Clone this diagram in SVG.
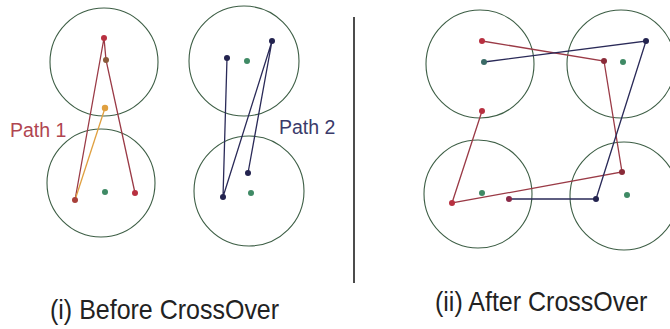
<svg xmlns="http://www.w3.org/2000/svg" width="670" height="329" viewBox="0 0 670 329">
<style>
.zone{fill:none;stroke:#3d5e45;stroke-width:1.1}
.ctr{fill:#3f8a65}
.red{stroke:#9a3a46;stroke-width:1.3;fill:none;stroke-linecap:round}
.org{stroke:#e0a040;stroke-width:1.3;fill:none}
.navy{stroke:#2a2a58;stroke-width:1.3;fill:none}
.dr{fill:#b83040}
.dn{fill:#23234f}
.lbl{font-family:"Liberation Sans",Arial,sans-serif}
</style>
<rect width="670" height="329" fill="#ffffff"/>
<g id="zones-before">
<g id="zone-b1"><circle class="zone" cx="104" cy="62" r="54"/></g>
<g id="zone-b2"><circle class="zone" cx="101" cy="183" r="54"/><circle class="ctr" cx="105" cy="192" r="3"/></g>
<g id="zone-b3"><circle class="zone" cx="244" cy="61" r="55"/><circle class="ctr" cx="247" cy="61" r="3"/></g>
<g id="zone-b4"><circle class="zone" cx="249" cy="191" r="55"/><circle class="ctr" cx="251" cy="193" r="3"/></g>
</g>
<g id="zones-after">
<g id="zone-a1"><circle class="zone" cx="480" cy="64" r="54"/></g>
<g id="zone-a2"><circle class="zone" cx="621" cy="64" r="54"/><circle class="ctr" cx="623" cy="62" r="3"/></g>
<g id="zone-a3"><circle class="zone" cx="478" cy="194" r="54"/><circle class="ctr" cx="482" cy="193" r="3"/></g>
<g id="zone-a4"><circle class="zone" cx="624" cy="196" r="54"/><circle class="ctr" cx="627" cy="195" r="3"/></g>
</g>
<g id="connectors">
<polyline class="red" points="135,193 106,60 104,38 75,200"/>
<line class="org" x1="75" y1="200" x2="105" y2="108"/>
<polyline class="navy" points="227,58 223,197 272,41 248,173"/>
<polyline class="red" points="482,41 604,61 622,172 452,203 482,111"/>
<polyline class="navy" points="484,62 646,41 596,199 509,199"/>
<line x1="354" y1="17" x2="354" y2="283" stroke="#111" stroke-width="1.5"/>
</g>
<g id="points-before">
<g id="p1-a"><circle class="dr" cx="104" cy="38" r="3"/></g>
<g id="p1-b"><circle fill="#8a5a3a" cx="106" cy="60" r="3"/></g>
<g id="p1-c"><circle fill="#e0a040" cx="105" cy="108" r="3.2"/></g>
<g id="p1-d"><circle fill="#a8403a" cx="75" cy="200" r="3"/></g>
<g id="p1-e"><circle class="dr" cx="135" cy="193" r="3"/></g>
<g id="p2-a"><circle class="dn" cx="227" cy="58" r="3"/></g>
<g id="p2-b"><circle class="dn" cx="272" cy="41" r="3"/></g>
<g id="p2-c"><circle class="dn" cx="248" cy="173" r="3"/></g>
<g id="p2-d"><circle class="dn" cx="223" cy="197" r="3"/></g>
</g>
<g id="points-after">
<g id="q1-a"><circle class="dr" cx="482" cy="41" r="3"/></g>
<g id="q1-b"><circle fill="#8a2a38" cx="604" cy="61" r="3"/></g>
<g id="q1-c"><circle fill="#8a2a38" cx="622" cy="172" r="3"/></g>
<g id="q1-d"><circle class="dr" cx="452" cy="203" r="3"/></g>
<g id="q1-e"><circle class="dr" cx="482" cy="111" r="3"/></g>
<g id="q2-a"><circle fill="#3a6a66" cx="484" cy="62" r="3"/></g>
<g id="q2-b"><circle class="dn" cx="646" cy="41" r="3"/></g>
<g id="q2-c"><circle class="dn" cx="596" cy="199" r="3"/></g>
<g id="q2-d"><circle fill="#8a2a48" cx="509" cy="199" r="3"/></g>
</g>
<g id="labels">
<text class="lbl" x="10" y="137" font-size="19.5" fill="#b04550">Path 1</text>
<text class="lbl" x="279" y="134" font-size="19.5" fill="#3a3a6a">Path 2</text>
<text class="lbl" transform="translate(50,319) scale(1,1.1)" font-size="25" fill="#222">(i) Before CrossOver</text>
<text class="lbl" transform="translate(435,311) scale(1,1.1)" font-size="25" fill="#222">(ii) After CrossOver</text>
</g>
</svg>
